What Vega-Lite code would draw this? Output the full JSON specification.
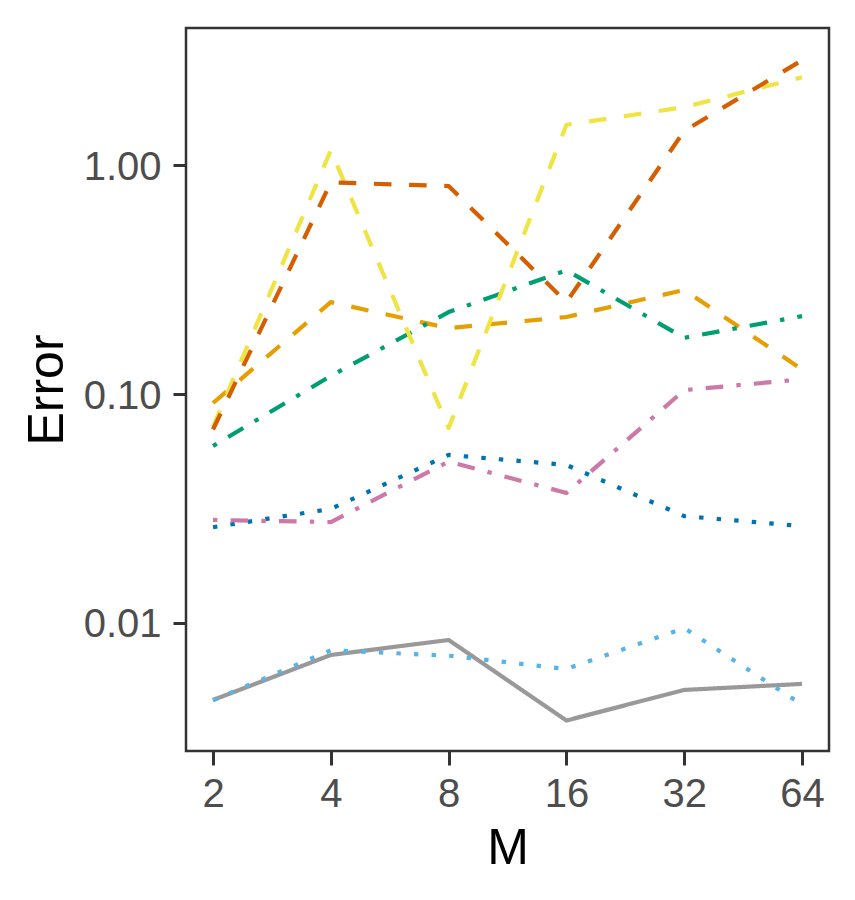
{
  "$schema": "https://vega.github.io/schema/vega-lite/v6.json",
  "width": 643,
  "height": 723,
  "autosize": {"type": "none"},
  "padding": {"left": 186, "top": 28, "right": 26, "bottom": 149},
  "background": "white",
  "data": {
    "values": [
      {"series": "g1", "M": 2, "error": 0.00461},
      {"series": "g1", "M": 4, "error": 0.00725},
      {"series": "g1", "M": 8, "error": 0.00843},
      {"series": "g1", "M": 16, "error": 0.00375},
      {"series": "g1", "M": 32, "error": 0.0051},
      {"series": "g1", "M": 64, "error": 0.00542},
      {"series": "g2", "M": 2, "error": 0.0914},
      {"series": "g2", "M": 4, "error": 0.252},
      {"series": "g2", "M": 8, "error": 0.194},
      {"series": "g2", "M": 16, "error": 0.217},
      {"series": "g2", "M": 32, "error": 0.285},
      {"series": "g2", "M": 64, "error": 0.128},
      {"series": "g3", "M": 2, "error": 0.0046},
      {"series": "g3", "M": 4, "error": 0.0076},
      {"series": "g3", "M": 8, "error": 0.0072},
      {"series": "g3", "M": 16, "error": 0.0063},
      {"series": "g3", "M": 32, "error": 0.0095},
      {"series": "g3", "M": 64, "error": 0.0044},
      {"series": "g4", "M": 2, "error": 0.0593},
      {"series": "g4", "M": 4, "error": 0.12},
      {"series": "g4", "M": 8, "error": 0.228},
      {"series": "g4", "M": 16, "error": 0.347},
      {"series": "g4", "M": 32, "error": 0.176},
      {"series": "g4", "M": 64, "error": 0.219},
      {"series": "g5", "M": 2, "error": 0.072},
      {"series": "g5", "M": 4, "error": 1.16},
      {"series": "g5", "M": 8, "error": 0.071},
      {"series": "g5", "M": 16, "error": 1.5},
      {"series": "g5", "M": 32, "error": 1.79},
      {"series": "g5", "M": 64, "error": 2.42},
      {"series": "g6", "M": 2, "error": 0.0262},
      {"series": "g6", "M": 4, "error": 0.0315},
      {"series": "g6", "M": 8, "error": 0.0542},
      {"series": "g6", "M": 16, "error": 0.049},
      {"series": "g6", "M": 32, "error": 0.0293},
      {"series": "g6", "M": 64, "error": 0.0265},
      {"series": "g7", "M": 2, "error": 0.07},
      {"series": "g7", "M": 4, "error": 0.84},
      {"series": "g7", "M": 8, "error": 0.81},
      {"series": "g7", "M": 16, "error": 0.252},
      {"series": "g7", "M": 32, "error": 1.41},
      {"series": "g7", "M": 64, "error": 2.87},
      {"series": "g8", "M": 2, "error": 0.0282},
      {"series": "g8", "M": 4, "error": 0.0276},
      {"series": "g8", "M": 8, "error": 0.0507},
      {"series": "g8", "M": 16, "error": 0.037},
      {"series": "g8", "M": 32, "error": 0.104},
      {"series": "g8", "M": 64, "error": 0.116}
    ]
  },
  "mark": {"type": "line", "strokeWidth": 4.2, "strokeCap": "butt", "strokeJoin": "round"},
  "encoding": {
    "x": {
      "field": "M",
      "type": "quantitative",
      "scale": {"type": "log", "base": 2, "domain": [1.706, 75], "nice": false, "zero": false},
      "axis": {
        "title": "M",
        "values": [2, 4, 8, 16, 32, 64],
        "format": "d",
        "grid": false,
        "domain": false,
        "tickSize": 14,
        "tickWidth": 3,
        "tickColor": "#333333",
        "labelPadding": 9,
        "labelFont": "Liberation Sans",
        "labelFontSize": 40,
        "labelColor": "#4D4D4D",
        "labelFlush": false,
        "titleFont": "Liberation Sans",
        "titleFontSize": 50,
        "titleFontWeight": "normal",
        "titleColor": "#000000",
        "titleBaseline": "alphabetic",
        "titleX": 321.5,
        "titleY": 112
      }
    },
    "y": {
      "field": "error",
      "type": "quantitative",
      "scale": {"type": "log", "domain": [0.00276, 3.97], "nice": false, "zero": false},
      "axis": {
        "title": "Error",
        "values": [0.01, 0.1, 1],
        "format": ".2f",
        "grid": false,
        "domain": false,
        "tickSize": 13,
        "tickWidth": 3,
        "tickColor": "#333333",
        "labelPadding": 12,
        "labelFont": "Liberation Sans",
        "labelFontSize": 40,
        "labelColor": "#4D4D4D",
        "labelBaseline": "alphabetic",
        "labelOffset": 14,
        "labelFlush": false,
        "titleFont": "Liberation Sans",
        "titleFontSize": 50,
        "titleFontWeight": "normal",
        "titleColor": "#000000",
        "titleBaseline": "alphabetic",
        "titleAngle": 270,
        "titleX": -124,
        "titleY": 361.5
      }
    },
    "color": {
      "field": "series",
      "type": "nominal",
      "scale": {
        "domain": ["g1", "g2", "g3", "g4", "g5", "g6", "g7", "g8"],
        "range": ["#999999", "#E69F00", "#56B4E9", "#009E73", "#F0E442", "#0072B2", "#D55E00", "#CC79A7"]
      },
      "legend": null
    },
    "strokeDash": {
      "field": "series",
      "type": "nominal",
      "scale": {
        "domain": ["g1", "g2", "g3", "g4", "g5", "g6", "g7", "g8"],
        "range": [[1, 0], [17.6, 17.6], [4.4, 13.2], [4.4, 13.2, 17.6, 13.2], [17.6, 17.6], [4.4, 13.2], [17.6, 17.6], [4.4, 13.2, 17.6, 13.2]]
      },
      "legend": null
    }
  },
  "config": {
    "view": {"stroke": "#333333", "strokeWidth": 2.5}
  }
}
